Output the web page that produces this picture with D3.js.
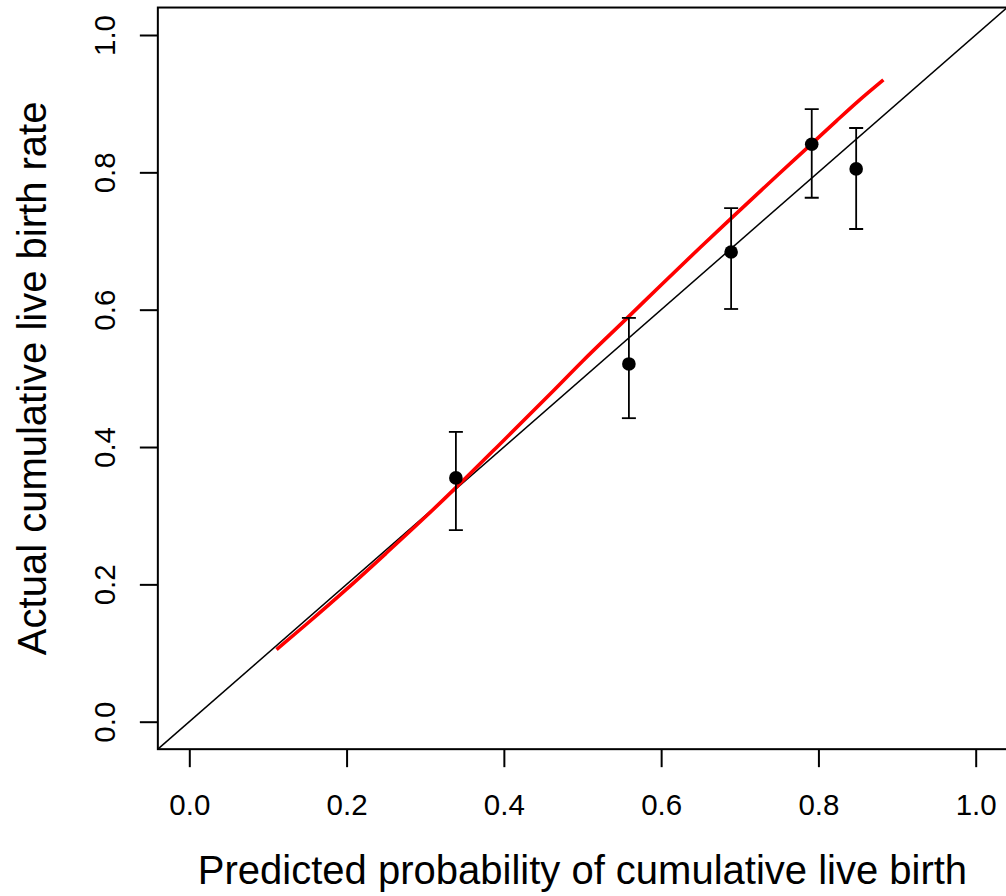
<!DOCTYPE html>
<html>
<head>
<meta charset="utf-8">
<script src="https://cdn.jsdelivr.net/npm/d3@7"></script>
<style>
  html, body { margin: 0; padding: 0; background: #fff; }
  svg { display: block; }
  text { font-family: "Liberation Sans", Arial, sans-serif; fill: #000; }
</style>
</head>
<body>
<script>
// Calibration groups: mean predicted probability vs observed rate with 95% CI
const predicted = [0.339, 0.559, 0.689, 0.7915, 0.848];
const observed  = [0.355, 0.521, 0.684, 0.841, 0.805];
const ciLower   = [0.279, 0.442, 0.601, 0.763, 0.7175];
const ciUpper   = [0.422, 0.588, 0.748, 0.892, 0.8646];

// Smoothed calibration curve
const curveX = [0.111, 0.15, 0.2, 0.25, 0.3, 0.34, 0.4, 0.463, 0.5, 0.556, 0.6, 0.65, 0.689, 0.75, 0.79, 0.823, 0.85, 0.8826];
const curveY = [0.105, 0.143, 0.193, 0.245, 0.298, 0.342, 0.41, 0.482, 0.525, 0.587, 0.636, 0.691, 0.733, 0.798, 0.84, 0.875, 0.903, 0.9346];

const tickValues = [0, 0.2, 0.4, 0.6, 0.8, 1.0];
const xTitle = "Predicted probability of cumulative live birth";
const yTitle = "Actual cumulative live birth rate";

const W = 1006, H = 896;
const x = d3.scaleLinear().domain([0, 1]).range([189.3, 975.7]);
const y = d3.scaleLinear().domain([0, 1]).range([721.7, 35]);
const lo = -0.04, hi = 1.04;
const box = { x0: x(lo), x1: x(hi), y0: y(hi), y1: y(lo) };

const svg = d3.select("body").append("svg").attr("width", W).attr("height", H);

svg.append("defs").append("clipPath").attr("id", "plotClip")
  .append("rect")
  .attr("x", box.x0).attr("y", box.y0)
  .attr("width", box.x1 - box.x0).attr("height", box.y1 - box.y0);

const plot = svg.append("g").attr("clip-path", "url(#plotClip)");

// Reference diagonal (perfect calibration)
plot.append("line")
  .attr("x1", x(lo)).attr("y1", y(lo))
  .attr("x2", x(hi)).attr("y2", y(hi))
  .attr("stroke", "#000").attr("stroke-width", 1.5);

// Smoothed calibration curve
const curveData = curveX.map((v, i) => [v, curveY[i]]);
plot.append("path")
  .datum(curveData)
  .attr("fill", "none")
  .attr("stroke", "#ff0000")
  .attr("stroke-width", 3.6)
  .attr("stroke-linecap", "butt")
  .attr("d", d3.line().x(d => x(d[0])).y(d => y(d[1])).curve(d3.curveMonotoneX));

// Error bars
const groups = predicted.map((p, i) => ({ p, o: observed[i], l: ciLower[i], u: ciUpper[i] }));
const bars = plot.append("g").attr("stroke", "#000").attr("stroke-width", 1.8);
const cap = 7;
bars.selectAll(".stem").data(groups).join("line")
  .attr("x1", d => x(d.p)).attr("x2", d => x(d.p))
  .attr("y1", d => y(d.l)).attr("y2", d => y(d.u));
bars.selectAll(".capTop").data(groups).join("line")
  .attr("x1", d => x(d.p) - cap).attr("x2", d => x(d.p) + cap)
  .attr("y1", d => y(d.u)).attr("y2", d => y(d.u));
bars.selectAll(".capBot").data(groups).join("line")
  .attr("x1", d => x(d.p) - cap).attr("x2", d => x(d.p) + cap)
  .attr("y1", d => y(d.l)).attr("y2", d => y(d.l));

// Group points
plot.append("g").selectAll("circle").data(groups).join("circle")
  .attr("cx", d => x(d.p)).attr("cy", d => y(d.o))
  .attr("r", 6.8).attr("fill", "#000");

// Plot frame
svg.append("rect")
  .attr("x", box.x0).attr("y", box.y0)
  .attr("width", box.x1 - box.x0).attr("height", box.y1 - box.y0)
  .attr("fill", "none").attr("stroke", "#000").attr("stroke-width", 2);

// Axes
const fmt = d3.format(".1f");
const xAxis = svg.append("g")
  .attr("transform", `translate(0,${box.y1})`)
  .call(d3.axisBottom(x).tickValues(tickValues).tickFormat(fmt).tickSize(18).tickPadding(27));
xAxis.select(".domain").remove();
xAxis.selectAll(".tick line").attr("stroke", "#000").attr("stroke-width", 2);
xAxis.selectAll(".tick text").attr("font-size", 29.5).attr("font-family", "Liberation Sans, Arial, sans-serif");

const yAxis = svg.append("g")
  .attr("transform", `translate(${box.x0},0)`)
  .call(d3.axisLeft(y).tickValues(tickValues).tickFormat(fmt).tickSize(18));
yAxis.select(".domain").remove();
yAxis.selectAll(".tick line").attr("stroke", "#000").attr("stroke-width", 2);
yAxis.selectAll(".tick text")
  .attr("font-size", 29.5).attr("font-family", "Liberation Sans, Arial, sans-serif")
  .attr("x", 0).attr("dy", null)
  .attr("text-anchor", "middle")
  .attr("transform", `translate(${115 - box.x0},0) rotate(-90)`);

// Axis titles
svg.append("text")
  .attr("x", x(0.5)).attr("y", 884)
  .attr("text-anchor", "middle")
  .attr("font-size", 40)
  .text(xTitle);

svg.append("text")
  .attr("transform", `translate(46,${y(0.5)}) rotate(-90)`)
  .attr("text-anchor", "middle")
  .attr("font-size", 40)
  .text(yTitle);
</script>
</body>
</html>
